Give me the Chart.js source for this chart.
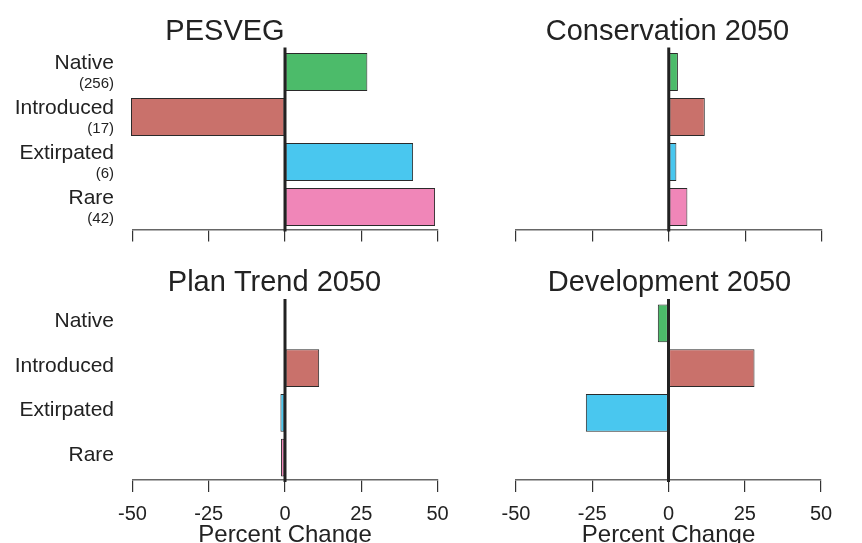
<!DOCTYPE html>
<html lang="en">

<head>
    <title>Percent Change by Scenario</title>
    <script src="https://cdn.jsdelivr.net/npm/chart.js"></script>
    <style>
        body { margin: 0; background: #fff; overflow: hidden; }
        #wrap { position: relative; width: 862px; height: 543px; overflow: hidden; }
        canvas { position: absolute; }
    </style>
</head>

<body>
    <div id="wrap">
        <canvas id="tl" width="450" height="260" style="left:0;top:0"></canvas>
        <canvas id="tr" width="389" height="260" style="left:473px;top:0"></canvas>
        <canvas id="bl" width="549" height="290" style="left:0;top:260px"></canvas>
        <canvas id="br" width="385" height="290" style="left:477px;top:260px"></canvas>
    </div>

    <script>
        // Data
        const categories = ['Native', 'Introduced', 'Extirpated', 'Rare'];
        const counts = ['(256)', '(17)', '(6)', '(42)'];
        const pesveg = [27, -50.5, 42, 49.2];
        const conservation = [3.0, 11.8, 2.5, 6.1];
        const planTrend = [0, 11.2, -1.5, -1.3];
        const development = [-3.5, 28.2, -27.1, 0];
        const xTicks = [-50, -25, 0, 25, 50];
        const barColors = ['#4cbb6a', '#c9716b', '#49c7ef', '#f086b8'];

        const FONT = '"Liberation Sans", Arial, Helvetica, sans-serif';

        // zero line, titles and category labels
        const panelDecor = {
            id: 'panelDecor',
            afterDatasetsDraw(chart, args, opts) {
                const { ctx, chartArea, scales } = chart;
                const x0 = scales.x.getPixelForValue(0);
                ctx.save();
                ctx.strokeStyle = '#222';
                ctx.lineWidth = 3;
                ctx.beginPath();
                ctx.moveTo(x0, chartArea.top - 2);
                ctx.lineTo(x0, chartArea.bottom + 2);
                ctx.stroke();

                ctx.fillStyle = '#222';
                ctx.textAlign = 'center';
                ctx.textBaseline = 'alphabetic';
                ctx.font = '29px ' + FONT;
                ctx.fillText(opts.title, chart.width / 2, opts.titleY);

                if (opts.labels) {
                    ctx.textAlign = 'right';
                    const lx = chartArea.left - 18.5;
                    categories.forEach((c, i) => {
                        const cy = scales.y.getPixelForValue(i);
                        if (opts.counts) {
                            ctx.font = '21px ' + FONT;
                            ctx.fillText(c, lx, cy - 3);
                            ctx.font = '15px ' + FONT;
                            ctx.fillText(counts[i], lx, cy + 15.5);
                        } else {
                            ctx.font = '21px ' + FONT;
                            ctx.fillText(c, lx, cy + 3.5);
                        }
                    });
                }
                ctx.restore();
            }
        };

        function makePanel(id, values, cfg) {
            new Chart(document.getElementById(id), {
                type: 'bar',
                data: {
                    labels: categories,
                    datasets: [{
                        data: values,
                        backgroundColor: barColors,
                        borderColor: '#2a2a2a',
                        borderWidth: 1,
                        borderSkipped: false,
                        barPercentage: 0.84,
                        categoryPercentage: 1,
                        clip: false
                    }]
                },
                options: {
                    indexAxis: 'y',
                    responsive: false,
                    animation: false,
                    layout: { padding: cfg.padding },
                    plugins: {
                        legend: { display: false },
                        tooltip: { enabled: false },
                        panelDecor: cfg.decor
                    },
                    scales: {
                        y: { display: false },
                        x: {
                            min: -50,
                            max: 50,
                            afterBuildTicks: (s) => { s.ticks = xTicks.map(v => ({ value: v })); },
                            afterFit: (s) => { s.height = cfg.axisHeight; },
                            grid: {
                                drawOnChartArea: false,
                                drawTicks: true,
                                tickLength: 12,
                                color: '#333',
                                lineWidth: 1.2
                            },
                            border: { color: '#666', width: 1.5 },
                            ticks: {
                                display: cfg.bottom,
                                color: '#222',
                                padding: 10,
                                font: { family: FONT, size: 20 }
                            },
                            title: {
                                display: cfg.bottom,
                                text: 'Percent Change',
                                color: '#222',
                                padding: { top: 0, bottom: 0 },
                                font: { family: FONT, size: 24 }
                            }
                        }
                    }
                },
                plugins: [panelDecor]
            });
        }

        makePanel('tl', pesveg, {
            padding: { left: 132.5, right: 12.5, top: 49.5, bottom: 16.5 },
            axisHeight: 14, bottom: false,
            decor: { title: 'PESVEG', titleY: 40, labels: true, counts: true }
        });
        makePanel('tr', conservation, {
            padding: { left: 43, right: 389 - 348.5, top: 49.5, bottom: 16.5 },
            axisHeight: 14, bottom: false,
            decor: { title: 'Conservation 2050', titleY: 40, labels: false }
        });
        makePanel('bl', planTrend, {
            padding: { left: 132.5, right: 549 - 437.5, top: 41, bottom: 0 },
            axisHeight: 70, bottom: true,
            decor: { title: 'Plan Trend 2050', titleY: 31, labels: true, counts: false }
        });
        makePanel('br', development, {
            padding: { left: 39, right: 385 - 344, top: 41, bottom: 0 },
            axisHeight: 70, bottom: true,
            decor: { title: 'Development 2050', titleY: 31, labels: false }
        });
    </script>
</body>

</html>
